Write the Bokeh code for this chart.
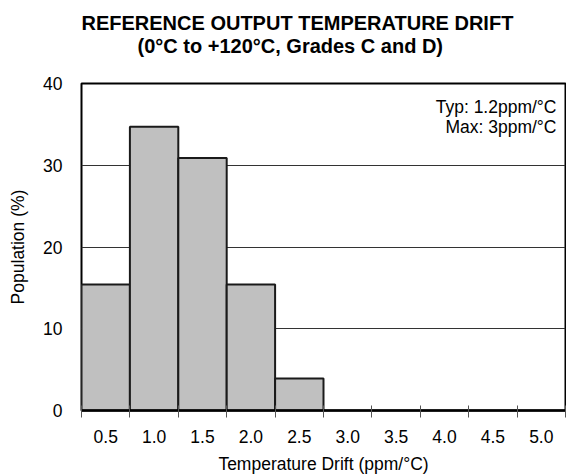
from bokeh.plotting import figure
from bokeh.models import Range1d, FixedTicker, Label, Title
from bokeh.embed import file_html
from bokeh.resources import INLINE

# ---- data ----
centers = [0.5, 1.0, 1.5, 2.0, 2.5, 3.0, 3.5, 4.0, 4.5, 5.0]
tick_labels = ["0.5", "1.0", "1.5", "2.0", "2.5", "3.0", "3.5", "4.0", "4.5", "5.0"]
population = [15.4, 34.7, 30.9, 15.4, 3.9, 0, 0, 0, 0, 0]
y_ticks = [0, 10, 20, 30, 40]
title_line1 = "REFERENCE OUTPUT TEMPERATURE DRIFT"
title_line2 = "(0°C to +120°C, Grades C and D)"
notes = ["Typ: 1.2ppm/°C", "Max: 3ppm/°C"]
x_title = "Temperature Drift (ppm/°C)"
y_title = "Population (%)"

bin_w = centers[1] - centers[0]
edges = [c - bin_w / 2 for c in centers] + [centers[-1] + bin_w / 2]

FONT = "Liberation Sans"
FS = "17.5px"

W, H = 566, 476
ML, MR, MT, MB = 81, 1, 83, 64
frame_w = W - ML - MR
frame_h = H - MT - MB

p = figure(width=W, height=H,
           x_range=Range1d(edges[0], edges[-1]), y_range=Range1d(0, 40),
           output_backend="svg", toolbar_location=None,
           min_border_left=ML, min_border_right=MR, min_border_top=MT, min_border_bottom=MB,
           background_fill_color="white", border_fill_color="white")
try:
    p.title = None
except Exception:
    p.title.text = ""

px_x = frame_w / (edges[-1] - edges[0])
px_y = frame_h / 40.0

# two-line bold title: spacer nearest the frame, then line 2, then line 1
spacer = Title(text=" ", align="left", offset=0, text_font=FONT, text_font_size="20px",
               standoff=3)
t2 = Title(text=title_line2, align="left", offset=56, text_font=FONT,
           text_font_size="20px", text_font_style="bold", text_color="black", standoff=0)
t1 = Title(text=title_line1, align="left", offset=0, text_font=FONT,
           text_font_size="20px", text_font_style="bold", text_color="black", standoff=-2)
p.add_layout(spacer, "above")
p.add_layout(t2, "above")
p.add_layout(t1, "above")

p.outline_line_color = "black"
p.outline_line_width = 2

# bars
xs = [c for c, v in zip(centers, population) if v > 0]
tops = [v for v in population if v > 0]
p.vbar(x=xs, top=tops, width=bin_w, bottom=0, fill_color="#c0c0c0",
       line_color="#1a1a1a", line_width=2)

# grids
p.xgrid.visible = False
p.ygrid.ticker = FixedTicker(ticks=y_ticks)
p.ygrid.grid_line_color = "#333333"
p.ygrid.grid_line_width = 1

# x axis
xa = p.xaxis[0]
xa.ticker = FixedTicker(ticks=centers, minor_ticks=edges)
xa.major_label_overrides = {c: l for c, l in zip(centers, tick_labels)}
xa.major_tick_out = 0
xa.major_tick_in = 0
xa.minor_tick_out = 7
xa.minor_tick_in = 5
xa.minor_tick_line_color = "#555555"
xa.minor_tick_line_width = 1
xa.axis_line_color = "black"
xa.axis_line_width = 2.5
xa.major_label_standoff = 12
xa.major_label_text_font = FONT
xa.major_label_text_font_size = FS
xa.major_label_text_color = "black"
xa.axis_label = x_title
xa.axis_label_standoff = 8
xa.axis_label_text_font = FONT
xa.axis_label_text_font_size = FS
xa.axis_label_text_font_style = "normal"
xa.axis_label_text_color = "black"

# y axis
ya = p.yaxis[0]
ya.ticker = FixedTicker(ticks=y_ticks)
ya.major_tick_out = 0
ya.major_tick_in = 0
ya.minor_tick_out = 0
ya.minor_tick_in = 0
ya.axis_line_color = None
ya.major_label_standoff = 19
ya.major_label_text_font = FONT
ya.major_label_text_font_size = FS
ya.major_label_text_color = "black"
ya.axis_label = y_title
ya.axis_label_standoff = 12
ya.axis_label_text_font = FONT
ya.axis_label_text_font_size = FS
ya.axis_label_text_font_style = "normal"
ya.axis_label_text_color = "black"

# notes
for i, txt in enumerate(notes):
    p.add_layout(Label(x=edges[-1] - 9 / px_x, y=40 - (24 + 20 * i) / px_y,
                       text=txt, text_align="right", text_baseline="alphabetic",
                       text_font=FONT, text_font_size=FS, text_color="black"))

open("out.html", "w").write(file_html(p, INLINE))
